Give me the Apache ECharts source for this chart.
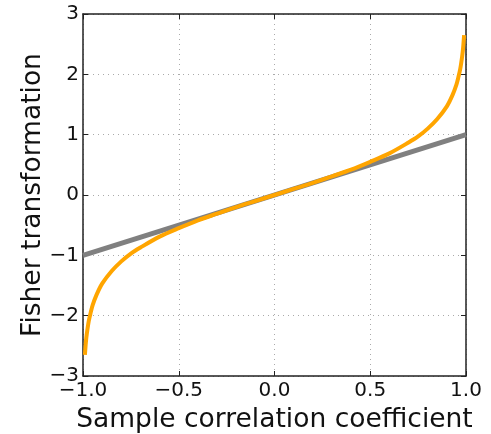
<!DOCTYPE html>
<html>
<head>
<meta charset="utf-8">
<script src="https://cdn.jsdelivr.net/npm/echarts@6/dist/echarts.min.js"></script>
<style>
  html, body { margin: 0; padding: 0; background: #fff; }
  #chart { width: 491px; height: 434px; }
</style>
</head>
<body>
<div id="chart"></div>
<script>
// values
const rValues = [-0.99, -0.985, -0.98, -0.97, -0.96, -0.95, -0.93, -0.9, -0.85, -0.8, -0.75, -0.7, -0.6, -0.5, -0.4, -0.3, -0.2, -0.1, 0,
  0.1, 0.2, 0.3, 0.4, 0.5, 0.6, 0.7, 0.75, 0.8, 0.85, 0.9, 0.93, 0.95, 0.96, 0.97, 0.98, 0.985, 0.99];
const fisherValues = [-2.65, -2.44, -2.30, -2.09, -1.95, -1.83, -1.66, -1.47, -1.26, -1.10, -0.97, -0.87, -0.69, -0.55, -0.42, -0.31, -0.20, -0.10, 0,
  0.10, 0.20, 0.31, 0.42, 0.55, 0.69, 0.87, 0.97, 1.10, 1.26, 1.47, 1.66, 1.83, 1.95, 2.09, 2.30, 2.44, 2.65];
const identityX = [-1, 1];
const identityY = [-1, 1];

const xTicks = { min: -1, max: 1, interval: 0.5 };
const yTicks = { min: -3, max: 3, interval: 1 };

const font = 'DejaVu Sans';
const minus = s => s.replace('-', '\u2212');

let chart = echarts.init(document.getElementById('chart'));

const baseAxis = {
  type: 'value',
  axisLine: { show: true, onZero: false, lineStyle: { color: '#222', width: 1.5 } },
  axisTick: { show: true, inside: true, length: 5, lineStyle: { color: '#222', width: 1 } },
  splitLine: { show: false },
};

chart.setOption({
  animation: false,
  grid: { left: 83, top: 14, right: 25, bottom: 58, outerBoundsMode: 'none', containLabel: false },
  xAxis: [
    Object.assign({}, baseAxis, xTicks, {
      position: 'bottom',
      name: 'Sample correlation coefficient',
      nameLocation: 'middle',
      nameGap: 31,
      nameTextStyle: { fontFamily: font, fontSize: 26.5, color: '#111' },
      axisLabel: { fontFamily: font, fontSize: 20, color: '#111', margin: 5,
        formatter: v => minus(v.toFixed(1)) },
      splitLine: { show: true, lineStyle: { color: '#aaa', type: [1, 4], width: 1 } },
    }),
    Object.assign({}, baseAxis, xTicks, {
      position: 'top',
      axisLabel: { show: false },
    }),
  ],
  yAxis: [
    Object.assign({}, baseAxis, yTicks, {
      position: 'left',
      name: 'Fisher transformation',
      nameLocation: 'middle',
      nameGap: 36,
      nameMoveOverlap: false,
      nameTextStyle: { fontFamily: font, fontSize: 26.5, color: '#111' },
      axisLabel: { fontFamily: font, fontSize: 20, color: '#111', margin: 4,
        formatter: v => minus(String(v)) },
      splitLine: { show: true, lineStyle: { color: '#aaa', type: [1, 4], width: 1 } },
    }),
    Object.assign({}, baseAxis, yTicks, {
      position: 'right',
      axisLabel: { show: false },
    }),
  ],
  series: [
    {
      type: 'line',
      data: identityX.map((x, i) => [x, identityY[i]]),
      showSymbol: false,
      lineStyle: { color: '#808080', width: 5 },
      z: 2,
    },
    {
      type: 'line',
      data: rValues.map((x, i) => [x, fisherValues[i]]),
      showSymbol: false,
      smooth: 0.3,
      lineStyle: { color: '#FFA500', width: 4 },
      z: 3,
    },
  ],
});
</script>
</body>
</html>
